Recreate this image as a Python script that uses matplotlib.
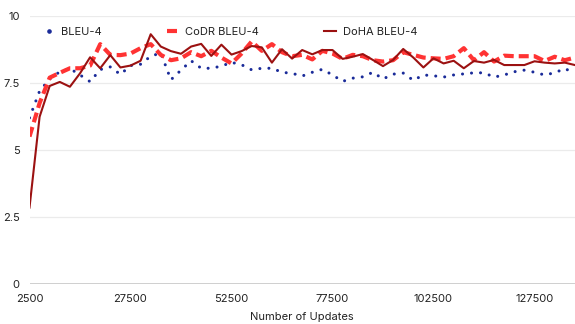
import matplotlib.pyplot as plt
from matplotlib.lines import Line2D

# Datos (BLEU-4 frente a numero de actualizaciones)
updates = [2500, 5000, 7500, 10000, 12500, 15000, 17500, 20000, 22500, 25000,
           27500, 30000, 32500, 35000, 37500, 40000, 42500, 45000, 47500, 50000,
           52500, 55000, 57500, 60000, 62500, 65000, 67500, 70000, 72500, 75000,
           77500, 80000, 82500, 85000, 87500, 90000, 92500, 95000, 97500, 100000,
           102500, 105000, 107500, 110000, 112500, 115000, 117500, 120000, 122500, 125000,
           127500, 130000, 132500, 135000, 137500]

bleu4 = [6.2, 7.2, 7.65, 7.92, 8.04, 7.8, 7.55, 8.0, 8.1, 7.82,
         8.15, 8.2, 8.5, 8.62, 7.62, 7.98, 8.33, 8.05, 8.05, 8.13,
         8.27, 8.18, 7.99, 8.05, 8.05, 7.9, 7.86, 7.76, 7.9, 8.01,
         7.8, 7.56, 7.68, 7.73, 7.9, 7.65, 7.83, 7.87, 7.6, 7.8,
         7.77, 7.72, 7.8, 7.84, 7.88, 7.88, 7.72, 7.8, 7.92, 7.98,
         7.9, 7.8, 7.88, 8.04, 7.86]

codr_bleu4 = [5.5, 6.75, 7.7, 7.88, 8.05, 8.05, 8.15, 8.95, 8.55, 8.54,
              8.6, 8.8, 8.95, 8.55, 8.35, 8.42, 8.65, 8.5, 8.7, 8.45,
              8.23, 8.6, 9.05, 8.7, 8.95, 8.65, 8.5, 8.55, 8.38, 8.7,
              8.6, 8.4, 8.55, 8.5, 8.35, 8.3, 8.35, 8.65, 8.55, 8.45,
              8.42, 8.4, 8.5, 8.8, 8.35, 8.65, 8.3, 8.52, 8.5, 8.5,
              8.5, 8.32, 8.48, 8.35, 8.45]

doha_bleu4 = [2.85, 6.24, 7.39, 7.54, 7.36, 7.86, 8.46, 8.05, 8.54, 8.08,
              8.15, 8.33, 9.32, 8.86, 8.69, 8.59, 8.86, 8.96, 8.51, 8.93,
              8.56, 8.69, 8.88, 8.83, 8.26, 8.76, 8.41, 8.73, 8.57, 8.73,
              8.73, 8.40, 8.48, 8.58, 8.36, 8.13, 8.36, 8.77, 8.45, 8.08,
              8.42, 8.23, 8.33, 8.05, 8.32, 8.26, 8.36, 8.17, 8.17, 8.17,
              8.31, 8.26, 8.23, 8.26, 8.17]

xticks = [2500, 27500, 52500, 77500, 102500, 127500]
yticks = [0, 2.5, 5, 7.5, 10]
ytick_labels = ['0', '2.5', '5', '7.5', '10']

plt.rcParams['font.family'] = ['Inter', 'DejaVu Sans']
text_color = '#222222'
c_blue = '#1a2b99'
c_red = '#ff3333'
c_dark = '#9b1111'

fig = plt.figure(figsize=(5.75, 3.24), dpi=100)
ax = fig.add_axes([29.5 / 575, 40 / 324, 545.4 / 575, 268 / 324])

ax.plot(updates, bleu4, color=c_blue, lw=2.2,
        linestyle=(0, (0.01, 2.95)), dash_capstyle='round')
ax.plot(updates, codr_bleu4, color=c_red, lw=3, linestyle=(0, (2.4, 1.2)))
ax.plot(updates, doha_bleu4, color=c_dark, lw=1.5)

ax.set_xlim(2500, 137500)
ax.set_ylim(0, 10)
ax.set_xticks(xticks)
ax.set_xticklabels([str(t) for t in xticks])
ax.set_yticks(yticks)
ax.set_yticklabels(ytick_labels)
ax.tick_params(length=0, labelsize=8, colors=text_color)
ax.tick_params(axis='y', pad=7)
ax.tick_params(axis='x', pad=7)

for s in ax.spines.values():
    s.set_visible(False)
ax.grid(axis='y', color='#ebebeb', lw=0.9)
ax.axhline(0, color='#c4c4c4', lw=1.2, zorder=1)

ax.set_xlabel('Number of Updates', fontsize=8, color=text_color, labelpad=6)

# Leyenda: el punteado se muestra como un solo punto
handles = [
    Line2D([], [], color=c_blue, linestyle='none', marker='o', markersize=2.3),
    Line2D([], [], color=c_red, lw=3, linestyle=(0, (2.4, 1.2))),
    Line2D([], [], color=c_dark, lw=1.5),
]
labels = ['BLEU-4', 'CoDR BLEU-4', 'DoHA BLEU-4']
leg = ax.legend(handles, labels, loc='upper left', bbox_to_anchor=(0.0055, 0.998),
                ncol=3, frameon=False, fontsize=8, handlelength=1.1,
                handletextpad=0.6, columnspacing=5.8, numpoints=1)
for t in leg.get_texts():
    t.set_color(text_color)

fig.savefig('out.png', dpi=100)
